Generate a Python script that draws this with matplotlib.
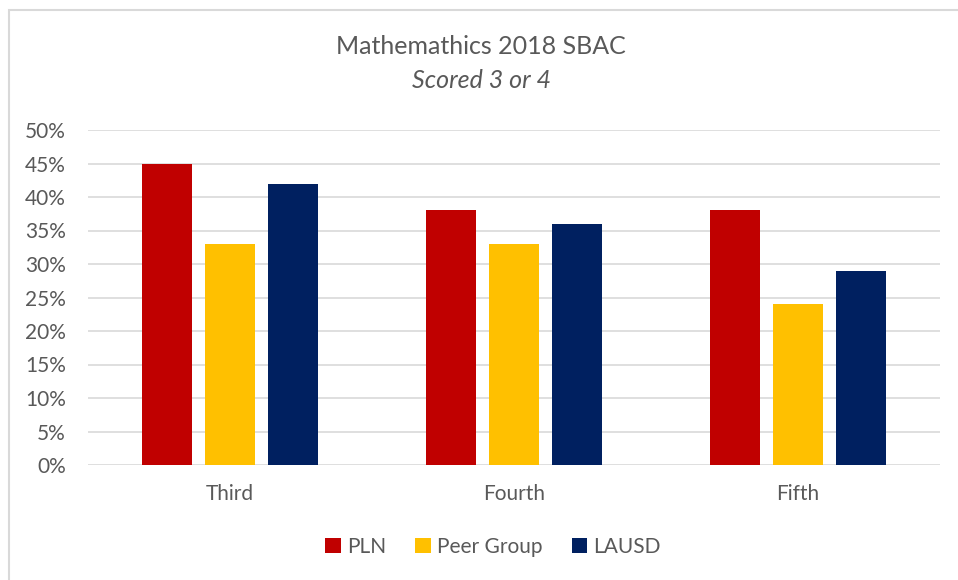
import matplotlib
matplotlib.use("Agg")
import matplotlib.pyplot as plt
import numpy as np
from matplotlib.patches import Rectangle

categories = ["Third", "Fourth", "Fifth"]
series_names = ["PLN", "Peer Group", "LAUSD"]
pln = [45, 38, 38]
peer = [33, 33, 24]
lausd = [42, 36, 29]
colors = ["#C00000", "#FFC000", "#002060"]
yticks = [0, 5, 10, 15, 20, 25, 30, 35, 40, 45, 50]

plt.rcParams['font.family'] = ['Lato', 'DejaVu Sans']
txt = "#595959"

W, H = 958, 580
fig = plt.figure(figsize=(W / 100, H / 100), dpi=100)
fig.patches.append(Rectangle((9 / W, 0 - 0.01), 1.1, (H - 10) / H + 0.01,
                             transform=fig.transFigure, fill=False,
                             edgecolor="#D9D9D9", linewidth=1.5))

ax = fig.add_axes([88 / W, 1 - 465 / H, (940 - 88) / W, (465 - 130) / H])
x = np.arange(len(categories))
bw = 0.173
off = 0.222
for i, (vals, name) in enumerate(zip([pln, peer, lausd], series_names)):
    ax.bar(x + (i - 1) * off, vals, width=bw, color=colors[i], label=name, zorder=3)

ax.set_xlim(-0.5, 2.5)
ax.set_ylim(0, 50)
ax.set_yticks(yticks)
ax.set_yticklabels([f"{v}%" for v in yticks])
ax.set_xticks(x)
ax.set_xticklabels(categories)
ax.grid(axis="y", color="#D9D9D9", linewidth=1.2, zorder=0)
for s in ax.spines.values():
    s.set_visible(False)
ax.tick_params(axis="both", length=0, labelsize=15, colors=txt)
ax.tick_params(axis="y", pad=16)
ax.tick_params(axis="x", pad=14)

fig.text(481 / W, 1 - 46 / H, "Mathemathics 2018 SBAC", ha="center", va="center",
         fontsize=18, color=txt)
fig.text(481 / W, 1 - 80 / H, "Scored 3 or 4", ha="center", va="center",
         fontsize=18, color=txt, style="italic")

leg = fig.legend(loc="center", bbox_to_anchor=(493 / W, 1 - 547 / H), ncol=3,
                 frameon=False, fontsize=15, handlelength=0.75, handleheight=0.75,
                 handletextpad=0.3, columnspacing=1.4)
for t in leg.get_texts():
    t.set_color(txt)

fig.savefig("out.png", dpi=100)
